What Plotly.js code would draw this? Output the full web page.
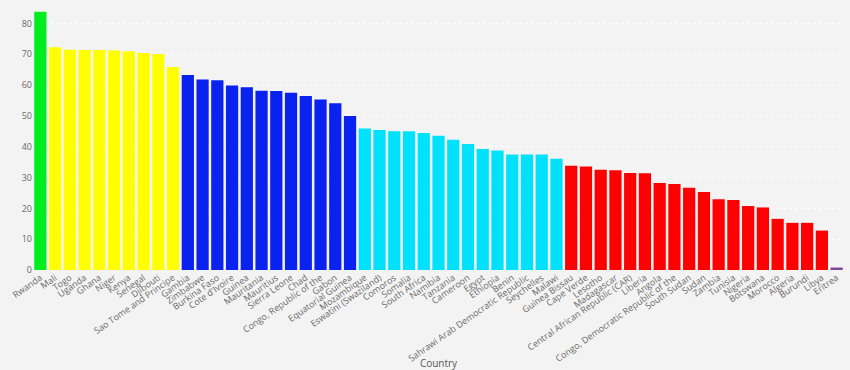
<!DOCTYPE html>
<html>
<head>
<meta charset="utf-8">
<script src="https://cdn.plot.ly/plotly-3.0.1.min.js"></script>
<style>html,body{margin:0;padding:0;background:#f3f3f3;}#chart{width:850px;height:370px;}</style>
</head>
<body>
<div id="chart"></div>
<script>
var countries = ["Rwanda","Mali","Togo","Uganda","Ghana","Niger","Kenya","Senegal","Djibouti","Sao Tome and Principe",
"Gambia","Zimbabwe","Burkina Faso","Cote d'Ivoire","Guinea","Mauritania","Mauritius","Sierra Leone","Chad","Congo, Republic of the","Gabon","Equatorial Guinea",
"Mozambique","Eswatini (Swaziland)","Comoros","Somalia","South Africa","Namibia","Tanzania","Cameroon","Egypt","Ethiopia","Benin","Sahrawi Arab Democratic Republic","Seychelles","Malawi",
"Guinea Bissau","Cape Verde","Lesotho","Madagascar","Central African Republic (CAR)","Liberia","Angola","Congo, Democratic Republic of the","South Sudan","Sudan","Zambia","Tunisia","Nigeria","Botswana","Morocco","Algeria","Burundi","Libya",
"Eritrea"];
var values = [83.8,72.3,71.5,71.4,71.4,71.2,71.0,70.4,70.1,65.9,
63.3,61.8,61.6,59.9,59.3,58.2,58.1,57.5,56.5,55.3,54.1,50.0,
45.9,45.4,45.0,45.0,44.5,43.6,42.3,40.9,39.3,38.8,37.5,37.5,37.5,36.1,
33.8,33.6,32.5,32.4,31.5,31.4,28.2,27.9,26.7,25.3,23.0,22.7,20.8,20.3,16.6,15.3,15.3,12.8,
0.8];
var groups = ["g","y","y","y","y","y","y","y","y","y",
"b","b","b","b","b","b","b","b","b","b","b","b",
"c","c","c","c","c","c","c","c","c","c","c","c","c","c",
"r","r","r","r","r","r","r","r","r","r","r","r","r","r","r","r","r","r",
"p"];
var palette = {g:"#00ee1f", y:"#ffff00", b:"#0a22f0", c:"#00e2fc", r:"#ff0000", p:"#7a4a9a"};
var colors = groups.map(function(g){return palette[g];});

Plotly.newPlot("chart", [{
  type: "bar",
  x: countries,
  y: values,
  marker: {color: colors},
  hoverinfo: "x+y"
}], {
  width: 850, height: 370,
  margin: {l: 33, r: 6, t: 5, b: 100},
  paper_bgcolor: "#f3f3f3",
  plot_bgcolor: "#f3f3f3",
  bargap: 0.17,
  showlegend: false,
  font: {family: "Open Sans, sans-serif", color: "#6a6a6a", size: 9},
  xaxis: {
    type: "category",
    tickangle: -35,
    tickfont: {size: 9, color: "#6a6a6a"},
    showgrid: false,
    zeroline: false,
    showline: false,
    title: {text: "Country", font: {size: 10, color: "#555"}, standoff: 10}
  },
  yaxis: {
    range: [0, 86],
    dtick: 10,
    tickfont: {size: 9, color: "#6a6a6a"},
    showgrid: true,
    gridcolor: "#ffffff",
    griddash: "dot",
    gridwidth: 1,
    zeroline: false,
    showline: false,
    ticks: "",
    ticklen: 0
  }
}, {displayModeBar: false});
</script>
</body>
</html>
